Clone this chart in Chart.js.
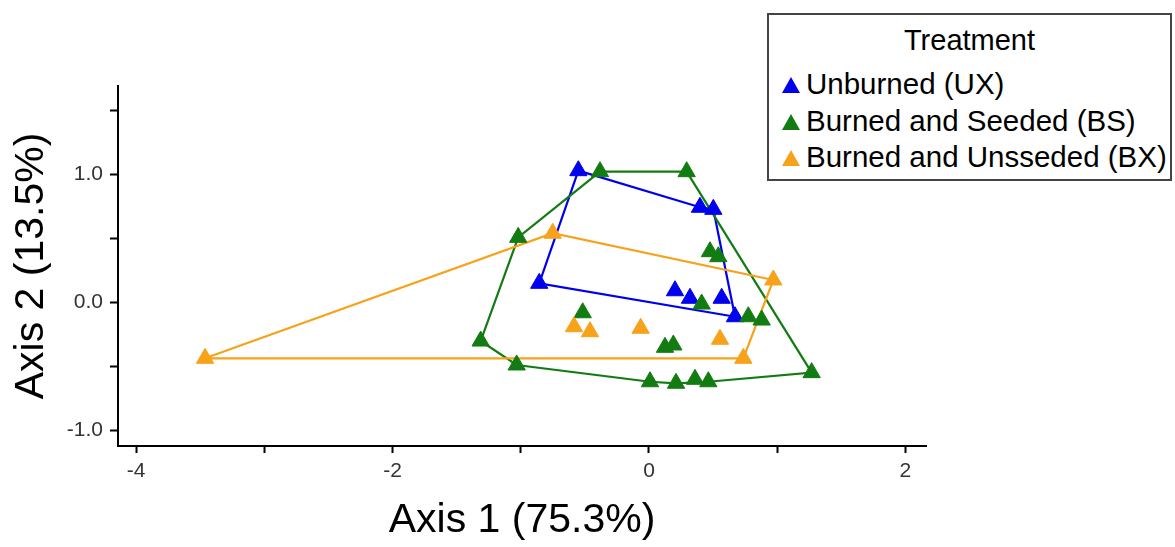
<!DOCTYPE html>
<html>
<head>
<meta charset="utf-8">
<script src="https://cdn.jsdelivr.net/npm/chart.js@4/dist/chart.umd.min.js"></script>
<style>
  body { margin: 0; background: #fff; font-family: 'Liberation Sans', Arial, sans-serif; }
  #wrap { position: relative; width: 1175px; height: 547px; }
  #legend {
    position: absolute; left: 767px; top: 13px; width: 401px; height: 164px;
    border: 2px solid #444; background: #fff; color: #000;
  }
  #legend .title { text-align: center; font-size: 29px; margin-top: 8px; margin-bottom: 9px; line-height: 34px; }
  #legend .item { font-size: 29.5px; line-height: 36.5px; height: 36.5px; padding-left: 13px; white-space: nowrap; }
  #legend .tri {
    display: inline-block; width: 0; height: 0; margin-right: 6px; vertical-align: 1px;
    border-left: 9px solid transparent; border-right: 9px solid transparent; border-bottom: 16px solid;
  }
</style>
</head>
<body>
<div id="wrap">
  <canvas id="chart" width="1175" height="547"></canvas>
  <div id="legend"><div class="title">Treatment</div></div>
</div>
<script>
// ordination scores
const seriesNames = ['Unburned (UX)', 'Burned and Seeded (BS)', 'Burned and Unsseded (BX)'];
const seriesColors = ['#0000ee', '#127c12', '#f7a21b'];

const uxX = [-0.551, 0.398, 0.502, -0.856, 0.203, 0.320, 0.567, 0.671];
const uxY = [1.026, 0.740, 0.724, 0.146, 0.088, 0.029, 0.029, -0.115];

const bsX = [-0.382, 0.294, -1.020, 0.476, 0.541, 0.411, -0.517, 0.775, 0.879, 0.125, 0.190, -1.313, -1.032, 0.008, 0.211, 0.359, 0.463, 1.269];
const bsY = [1.018, 1.018, 0.505, 0.393, 0.354, -0.016, -0.084, -0.115, -0.141, -0.354, -0.336, -0.305, -0.492, -0.623, -0.635, -0.604, -0.623, -0.552];

const bxX = [-0.751, 0.970, -0.585, -0.460, -0.065, 0.554, 0.736, -3.463];
const bxY = [0.537, 0.172, -0.193, -0.232, -0.205, -0.291, -0.440, -0.440];

// hull outlines as indexes into the point lists
const uxHull = [0, 1, 2, 7, 3, 0];
const bsHull = [0, 1, 17, 16, 14, 13, 12, 11, 2, 0];
const bxHull = [7, 0, 1, 6, 7];

const xTickValues = [-4, -3, -2, -1, 0, 1, 2];
const xTickLabels = ['-4', '', '-2', '', '0', '', '2'];
const yTickValues = [-1, -0.5, 0, 0.5, 1, 1.5];
const yTickLabels = ['-1.0', '', '0.0', '', '1.0', ''];

const pts = (xs, ys) => xs.map((x, i) => ({ x: x, y: ys[i] }));
const hull = (xs, ys, idx) => idx.map((i) => ({ x: xs[i], y: ys[i] }));

const groups = [[uxX, uxY, uxHull], [bsX, bsY, bsHull], [bxX, bxY, bxHull]];
const datasets = [];
groups.forEach((g, i) => {
  datasets.push({
    label: seriesNames[i],
    data: pts(g[0], g[1]),
    pointStyle: 'triangle',
    pointRadius: 10,
    pointBorderWidth: 1,
    backgroundColor: seriesColors[i],
    borderColor: seriesColors[i],
    showLine: false,
    order: 3 - i
  });
  datasets.push({
    label: seriesNames[i] + ' hull',
    data: hull(g[0], g[1], g[2]),
    showLine: true,
    pointRadius: 0,
    borderColor: seriesColors[i],
    borderWidth: 2.2,
    fill: false,
    order: 6 - i
  });
});

const tickFont = { family: "'Liberation Sans', Arial, sans-serif", size: 21 };
const titleFont = { family: "'Liberation Sans', Arial, sans-serif", size: 41 };

new Chart(document.getElementById('chart'), {
  type: 'scatter',
  data: { datasets: datasets },
  options: {
    responsive: false,
    animation: false,
    layout: { padding: { left: 0, top: 86, right: 249, bottom: 0 } },
    plugins: { legend: { display: false }, tooltip: { enabled: false } },
    scales: {
      x: {
        type: 'linear',
        min: -4.142,
        max: 2.161,
        afterBuildTicks: (s) => { s.ticks = xTickValues.map((v) => ({ value: v })); },
        afterFit: (s) => { s.height = 101; },
        ticks: {
          callback: (v, i) => xTickLabels[i],
          color: '#333',
          font: tickFont,
          padding: 6,
          maxRotation: 0
        },
        grid: { drawOnChartArea: false, drawTicks: true, tickLength: 7, tickColor: '#000', tickWidth: 2 },
        border: { display: true, color: '#000', width: 2 },
        title: { display: true, text: 'Axis 1 (75.3%)', color: '#000', font: titleFont, padding: { top: 0, bottom: 2 } }
      },
      y: {
        type: 'linear',
        min: -1.125,
        max: 1.6875,
        afterBuildTicks: (s) => { s.ticks = yTickValues.map((v) => ({ value: v })); },
        afterFit: (s) => { s.width = 118; },
        ticks: {
          callback: (v, i) => yTickLabels[i],
          color: '#333',
          font: tickFont,
          padding: 7
        },
        grid: { drawOnChartArea: false, drawTicks: true, tickLength: 8, tickColor: '#000', tickWidth: 2 },
        border: { display: true, color: '#000', width: 2 },
        title: { display: true, text: 'Axis 2 (13.5%)', color: '#000', font: titleFont, padding: { top: 7, bottom: 0 } }
      }
    }
  }
});

const legend = document.getElementById('legend');
seriesNames.forEach((name, i) => {
  const row = document.createElement('div');
  row.className = 'item';
  const tri = document.createElement('span');
  tri.className = 'tri';
  tri.style.borderBottomColor = seriesColors[i];
  row.appendChild(tri);
  row.appendChild(document.createTextNode(name));
  legend.appendChild(row);
});
</script>
</body>
</html>
